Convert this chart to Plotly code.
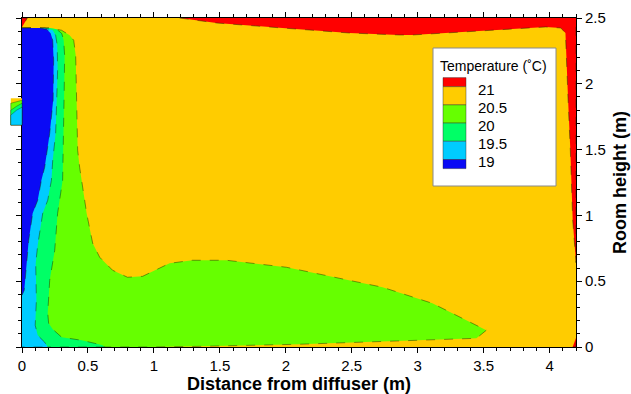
import plotly.graph_objects as go

# ---------------- data ----------------
# legend levels (deg C) and band colours (from >21 down to <19)
level_labels = ["21", "20.5", "20", "19.5", "19"]
band_colors = ["#FF0000", "#FFCC00", "#66FF00", "#00FF66", "#00CCFF", "#0A0AF5"]

# isotherm region boundaries, distance x (m) / height y (m)
lime_x = [0, 0.21, 0.30, 0.361, 0.392, 0.407, 0.414, 0.422, 0.437, 0.475, 0.49, 0.536, 0.589,
          0.687, 0.80, 0.914, 1.119, 1.293, 1.551, 2.005, 2.733, 3.111, 3.369, 3.52, 3.445,
          2.861, 2.104, 1.346, 0.97, 0]
lime_y = [2.424, 2.424, 2.407, 2.369, 2.331, 2.217, 1.874, 1.495, 1.366, 1.115, 1.016, 0.788, 0.682,
          0.583, 0.530, 0.537, 0.636, 0.659, 0.659, 0.606, 0.454, 0.332, 0.203, 0.127, 0.066,
          0.046, 0.021, 0.005, 0, 0]

spring_x = [0, 0.21, 0.263, 0.301, 0.316, 0.323, 0.320, 0.312, 0.308, 0.27, 0.248, 0.21, 0.195,
            0.202, 0.233, 0.301, 0.452, 0.551, 0.611, 0.627, 0]
spring_y = [2.424, 2.424, 2.414, 2.383, 2.331, 2.217, 1.951, 1.624, 1.267, 1.016, 0.735, 0.507, 0.256,
            0.180, 0.135, 0.074, 0.051, 0.028, 0.013, 0, 0]

cyan_x = [0, 0.172, 0.233, 0.255, 0.267, 0.27, 0.263, 0.255, 0.233, 0.223, 0.195, 0.157, 0.119,
          0.104, 0.109, 0.10, 0.119, 0.172, 0.195, 0]
cyan_y = [2.424, 2.424, 2.407, 2.369, 2.293, 2.103, 1.874, 1.623, 1.419, 1.267, 1.115, 1.016, 0.773,
          0.636, 0.355, 0.165, 0.089, 0.036, 0, 0]

blue_x = [0, 0.134, 0.187, 0.217, 0.233, 0.240, 0.236, 0.210, 0.172, 0.147, 0.119, 0.081, 0.051,
          0.036, 0.017, 0]
blue_y = [2.424, 2.424, 2.414, 2.384, 2.331, 2.179, 1.874, 1.623, 1.366, 1.267, 1.115, 1.016, 0.811,
          0.659, 0.431, 0.393]

red_x = [1.195, 1.475, 1.974, 2.481, 2.859, 2.958, 3.464, 3.971, 4.085, 4.12, 4.14, 4.157, 4.175,
         4.2, 4.2]
red_y = [2.5, 2.462, 2.424, 2.386, 2.371, 2.371, 2.401, 2.432, 2.424, 2.386, 1.877, 1.497, 0.965,
         0.64, 2.5]
red_tl_x = [0, 0.04, 0]
red_tl_y = [2.5, 2.5, 2.43]
red_br_x = [4.175, 4.2, 4.2]
red_br_y = [0, 0, 0.07]

# diffuser inlet (outside the room, x < 0)
inlet_x0, inlet_x1 = -0.085, 0.0
inlet_y0, inlet_y1 = 1.686, 1.89
inlet_lime = [(-0.085, 1.852), (0, 1.875)]
inlet_spring = [(-0.085, 1.799), (-0.04, 1.83), (0, 1.852)]
inlet_cyan = [(-0.085, 1.762), (-0.04, 1.80), (0, 1.822)]

x_range = [0, 4.2]
y_range = [0, 2.5]
x_ticks = [0, 0.5, 1, 1.5, 2, 2.5, 3, 3.5, 4]
y_ticks = [0, 0.5, 1, 1.5, 2, 2.5]

# ---------------- figure ----------------
FONT = "Liberation Sans, Arial, sans-serif"
edge = dict(color="rgba(20,40,0,0.65)", width=0.7, dash="dash")

fig = go.Figure()
regions = [
    (lime_x, lime_y, band_colors[2]),
    (spring_x, spring_y, band_colors[3]),
    (cyan_x, cyan_y, band_colors[4]),
    (blue_x, blue_y, band_colors[5]),
    (red_x, red_y, band_colors[0]),
    (red_tl_x, red_tl_y, band_colors[0]),
    (red_br_x, red_br_y, band_colors[0]),
]
for xs, ys, col in regions:
    fig.add_trace(go.Scatter(x=xs, y=ys, mode="lines", fill="toself", fillcolor=col,
                             line=edge, hoverinfo="skip", showlegend=False))

shapes = []

def px_path(points):
    # data -> paper coordinates for shapes outside the plotting area
    pts = [(x / x_range[1], y / y_range[1]) for x, y in points]
    return "M " + " L ".join(f"{a:.5f},{b:.5f}" for a, b in pts) + " Z"

base = [(inlet_x0, inlet_y0), (inlet_x0, inlet_y1), (inlet_x1, inlet_y1), (inlet_x1, inlet_y0)]
shapes.append(dict(type="path", xref="paper", yref="paper", path=px_path(base),
                   fillcolor=band_colors[1], line=dict(width=0), layer="above"))
for pts, col in [(inlet_lime, band_colors[2]), (inlet_spring, band_colors[3]), (inlet_cyan, band_colors[4])]:
    poly = pts + [(inlet_x1, inlet_y0), (inlet_x0, inlet_y0)]
    shapes.append(dict(type="path", xref="paper", yref="paper", path=px_path(poly),
                       fillcolor=col, line=dict(color="rgba(20,40,0,0.6)", width=0.6), layer="above"))

# ---- legend box (drawn manually, like the original colour key) ----
W, H = 631, 394
ml, mr, mt, mb = 22, 55, 18, 47
pw, ph = W - ml - mr, H - mt - mb

def fx(px):
    return (px - ml) / pw

def fy(py):
    return (H - mb - py) / ph

shapes.append(dict(type="rect", xref="paper", yref="paper", x0=fx(433), x1=fx(556), y0=fy(186), y1=fy(48),
                   fillcolor="white", line=dict(color="#8a8a8a", width=1), layer="above"))
sw_x0, sw_x1 = fx(443), fx(466)
seg_top, seg_h = 86.7, 18.2
tops = [seg_top - seg_h / 2] + [seg_top + i * seg_h for i in range(5)]
bots = [seg_top + i * seg_h for i in range(5)] + [seg_top + 4 * seg_h + seg_h / 2]
for col, t, b in zip(band_colors, tops, bots):
    shapes.append(dict(type="rect", xref="paper", yref="paper", x0=sw_x0, x1=sw_x1, y0=fy(b), y1=fy(t),
                       fillcolor=col, line=dict(color="rgba(40,40,40,0.7)", width=0.6), layer="above"))

annotations = [dict(text="Temperature (˚C)", xref="paper", yref="paper", x=fx(438), y=fy(66),
                    xanchor="left", yanchor="middle", showarrow=False,
                    font=dict(family=FONT, size=14, color="black"))]
for i, lab in enumerate(level_labels):
    annotations.append(dict(text=lab, xref="paper", yref="paper", x=fx(476), y=fy(seg_top + i * seg_h + 2.5),
                            xanchor="left", yanchor="middle", showarrow=False,
                            font=dict(family=FONT, size=15, color="black")))

axis_common = dict(showline=True, linecolor="black", linewidth=1, mirror="ticks", ticks="outside",
                   ticklen=5, tickwidth=1, tickcolor="black", showgrid=False, zeroline=False,
                   tickfont=dict(family=FONT, size=15, color="black"),
                   minor=dict(dtick=0.1, ticks="outside", ticklen=3, tickwidth=1, tickcolor="black",
                              showgrid=False))

fig.update_layout(
    width=W, height=H, margin=dict(l=ml, r=mr, t=mt, b=mb, autoexpand=False),
    paper_bgcolor="white", plot_bgcolor=band_colors[1],
    shapes=shapes, annotations=annotations, showlegend=False, hovermode=False,
    xaxis=dict(range=x_range, tickvals=x_ticks, **axis_common,
               title=dict(text="<b>Distance from diffuser (m)</b>", standoff=4,
                          font=dict(family=FONT, size=18, color="black"))),
    yaxis=dict(range=y_range, tickvals=y_ticks, side="right", **axis_common,
               title=dict(text="<b>Room height (m)</b>", standoff=8,
                          font=dict(family=FONT, size=18, color="black"))),
)

fig.write_html("out.html", config={"displayModeBar": False, "staticPlot": True},
               post_script="document.body.style.margin='0px';document.body.style.overflow='hidden';")
